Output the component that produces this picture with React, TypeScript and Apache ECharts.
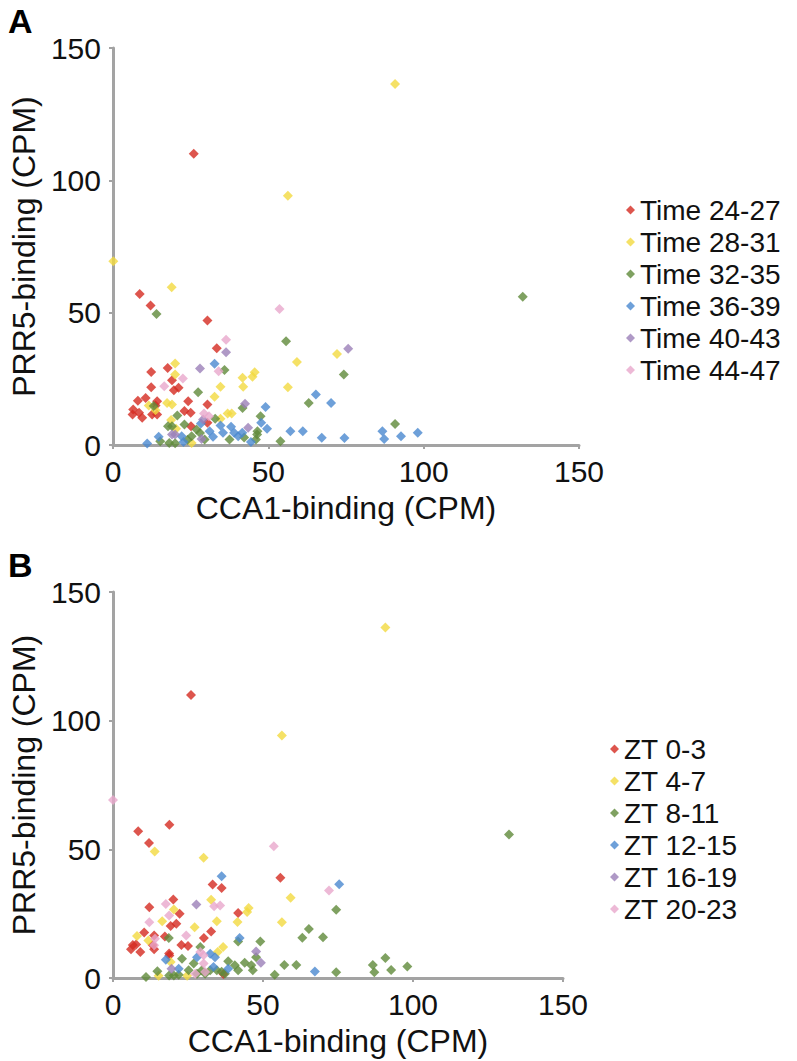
import React, { useEffect, useRef } from "react";
import * as echarts from "echarts";

// ---------- Panel A data: [CCA1-binding, PRR5-binding] ----------
const namesA = ["Time 24-27", "Time 28-31", "Time 32-35", "Time 36-39", "Time 40-43", "Time 44-47"];
const a_24_27 = [[26.0,110.0],[8.6,57.1],[12.1,52.7],[30.4,47.0],[33.4,36.6],[12.3,27.6],[17.6,29.1],[19.0,24.5],[21.1,21.6],[19.6,20.7],[12.3,21.8],[8.0,16.7],[10.5,17.8],[14.2,16.5],[13.7,14.9],[6.5,13.4],[6.3,11.5],[8.4,12.2],[9.4,10.3],[12.6,11.5],[14.2,11.5],[24.2,16.5],[23.0,12.8],[25.0,12.2],[30.4,15.3],[25.1,7.1],[30.4,8.4]];
const a_28_31 = [[90.8,136.4],[56.3,94.2],[0.1,69.4],[18.9,59.6],[20.0,30.8],[20.0,26.6],[17.4,15.9],[19.0,15.3],[11.5,14.9],[13.7,13.1],[34.6,22.0],[32.7,18.2],[41.7,25.4],[41.9,22.0],[44.9,25.8],[45.6,27.5],[36.9,11.9],[38.2,11.9],[34.6,9.9],[18.7,9.4],[20.3,6.1],[25.3,0.8],[56.3,21.8],[59.2,31.4],[72.1,34.4]];
const a_32_35 = [[131.9,56.0],[14.0,49.5],[55.7,39.2],[74.3,26.6],[63.0,15.9],[35.9,28.3],[27.4,19.9],[13.1,14.7],[41.7,14.0],[20.7,11.1],[32.9,9.9],[17.7,7.1],[19.0,7.1],[23.0,7.7],[26.9,5.9],[25.3,3.3],[29.5,2.1],[47.5,10.9],[46.5,5.2],[18.1,0.8],[20.0,0.7],[15.2,1.4],[53.9,1.4],[37.5,2.1],[42.2,2.8],[46.0,2.1],[90.8,7.9],[46.4,4.0],[28.0,4.5],[24.0,2.0]];
const a_36_39 = [[32.7,30.7],[49.1,14.4],[47.7,8.4],[49.6,6.1],[57.1,5.2],[61.1,5.2],[67.2,2.7],[74.5,2.6],[86.7,5.2],[87.3,2.3],[92.7,3.3],[98.1,4.6],[65.3,19.1],[70.2,15.9],[11.0,0.6],[14.7,3.1],[22.1,3.3],[22.7,1.1],[28.3,8.1],[31.1,5.2],[32.2,3.1],[34.6,7.4],[35.4,4.6],[38.0,6.9],[39.0,4.6],[40.3,3.3],[41.6,4.6],[44.4,1.1]];
const a_40_43 = [[75.7,36.4],[36.4,35.0],[28.0,28.9],[42.5,15.6],[43.5,6.5],[29.0,9.6],[20.0,4.0],[28.5,2.3],[19.0,4.0]];
const a_44_47 = [[53.6,51.4],[36.4,39.8],[34.0,27.9],[22.5,25.1],[16.5,22.2],[29.3,11.9],[30.9,10.9]];

// ---------- Panel B data ----------
const namesB = ["ZT 0-3", "ZT 4-7", "ZT 8-11", "ZT 12-15", "ZT 16-19", "ZT 20-23"];
const b_0_3 = [[26.0,110.0],[8.4,57.0],[12.0,52.5],[18.8,59.6],[55.8,39.0],[33.2,36.3],[36.2,35.0],[20.1,30.5],[12.1,27.5],[22.2,25.0],[41.7,25.3],[19.2,20.2],[21.1,21.1],[10.4,17.7],[13.7,16.5],[17.3,16.1],[30.3,15.5],[32.7,18.1],[6.6,12.8],[7.7,13.0],[6.0,11.2],[9.1,10.1],[13.2,12.8],[13.7,11.2],[22.8,12.8],[25.0,12.4],[18.7,9.5],[36.8,1.6],[18.8,8.7]];
const b_4_7 = [[90.8,136.2],[56.3,94.2],[13.9,49.2],[30.2,46.7],[59.2,31.2],[32.7,30.4],[45.2,27.2],[44.7,25.6],[20.3,26.6],[16.4,22.1],[34.6,22.1],[41.5,21.8],[56.3,21.7],[27.2,19.7],[8.0,16.3],[11.8,14.6],[36.7,12.0],[34.9,10.1],[19.2,6.2],[15.2,0.9],[24.7,0.9]];
const b_8_11 = [[132.0,55.8],[74.4,26.5],[65.3,19.0],[63.1,15.6],[70.0,15.8],[49.1,14.2],[41.7,14.2],[18.6,15.5],[23.0,7.5],[29.1,12.0],[57.1,5.1],[61.1,5.1],[53.9,1.3],[74.4,2.2],[90.8,7.8],[86.6,5.1],[87.1,2.2],[92.7,3.1],[98.1,4.5],[11.0,0.4],[14.8,2.6],[18.7,1.0],[20.3,1.0],[21.9,1.3],[25.2,3.0],[26.9,5.6],[28.0,1.7],[32.4,3.0],[34.6,3.0],[38.4,6.5],[40.6,5.0],[41.7,3.0],[43.9,5.9],[46.1,5.0],[46.6,3.0],[47.7,8.1],[36.2,2.4],[37.3,1.7],[29.6,3.0],[30.7,1.7]];
const b_12_15 = [[36.2,39.5],[75.4,36.4],[42.2,15.5],[17.6,7.1],[21.9,3.6],[28.0,8.1],[32.4,9.4],[34.0,8.1],[33.5,4.3],[38.4,3.6],[67.3,2.5]];
const b_16_19 = [[27.8,28.6],[47.7,10.3],[49.3,5.9],[19.5,3.6]];
const b_20_23 = [[0.0,69.2],[53.6,51.2],[72.0,34.0],[17.6,28.8],[12.1,21.7],[18.7,24.3],[33.7,27.9],[35.7,28.2],[24.4,16.5],[14.0,15.3],[13.7,12.7],[29.1,10.1],[30.2,8.8],[30.2,5.6],[27.4,1.7],[30.7,2.3]];

const colors = ["#d42a20", "#f2d940", "#5f8a3a", "#4a88cf", "#9b80b8", "#e8a8cc"];
const xTitle = "CCA1-binding (CPM)";
const yTitle = "PRR5-binding (CPM)";
const FONT = "'Liberation Sans', Arial, Helvetica, sans-serif";

export default function App() {
  const ref = useRef<HTMLDivElement>(null);
  useEffect(() => {
    if (!ref.current) return;
    const chart = echarts.init(ref.current, null, { renderer: "svg" });
    const axisCommon = (name: string, isY: boolean) => ({
      type: "value",
      min: 0,
      max: 150,
      interval: 50,
      name,
      nameLocation: "middle",
      nameGap: isY ? 73 : 47,
      nameTextStyle: { fontSize: 32, color: "#111", fontFamily: FONT },
      axisLine: { show: true, onZero: false, lineStyle: { color: "#a3a3a3", width: 3 } },
      axisTick: { show: true, length: 4, inside: false, lineStyle: { color: "#a3a3a3", width: 2 } },
      axisLabel: { fontSize: 30, color: "#111", fontFamily: FONT, margin: isY ? 12 : 11 },
      splitLine: { show: false },
    });
    const mk = (name: string, data: number[][], i: number, idx: number) => ({
      type: "scatter",
      name,
      data,
      xAxisIndex: idx,
      yAxisIndex: idx,
      symbol: "diamond",
      symbolSize: 10,
      itemStyle: { color: colors[i] },
    });
    const aSets = [a_24_27, a_28_31, a_32_35, a_36_39, a_40_43, a_44_47];
    const bSets = [b_0_3, b_4_7, b_8_11, b_12_15, b_16_19, b_20_23];
    const legendCommon = {
      orient: "vertical",
      icon: "diamond",
      itemWidth: 9,
      itemHeight: 9,
      itemGap: 2,
      textStyle: { fontSize: 28, color: "#111", fontFamily: FONT, lineHeight: 30 },
    };
    chart.setOption({
      animation: false,
      backgroundColor: "#fff",
      grid: [
        { left: 107, top: 48, width: 472, height: 397 },
        { left: 108, top: 592, width: 455, height: 386 },
      ],
      xAxis: [
        { ...axisCommon(xTitle, false), gridIndex: 0 },
        { ...axisCommon(xTitle, false), gridIndex: 1 },
      ],
      yAxis: [
        { ...axisCommon(yTitle, true), gridIndex: 0 },
        { ...axisCommon(yTitle, true), gridIndex: 1 },
      ],
      legend: [
        { ...legendCommon, data: namesA, left: 621, top: 190 },
        { ...legendCommon, data: namesB, left: 605, top: 729 },
      ],
      graphic: [
        { type: "text", left: 8, top: 4, style: { text: "A", fontSize: 34, fontWeight: "bold", fill: "#000", fontFamily: FONT } },
        { type: "text", left: 8, top: 548, style: { text: "B", fontSize: 34, fontWeight: "bold", fill: "#000", fontFamily: FONT } },
      ],
      series: [
        ...aSets.map((d, i) => mk(namesA[i], d, i, 0)),
        ...bSets.map((d, i) => mk(namesB[i], d, i, 1)),
      ],
    });
    return () => chart.dispose();
  }, []);
  return (
    <div
      ref={ref}
      style={{ position: "fixed", left: 0, top: 0, width: 797, height: 1061, background: "#fff" }}
    />
  );
}
